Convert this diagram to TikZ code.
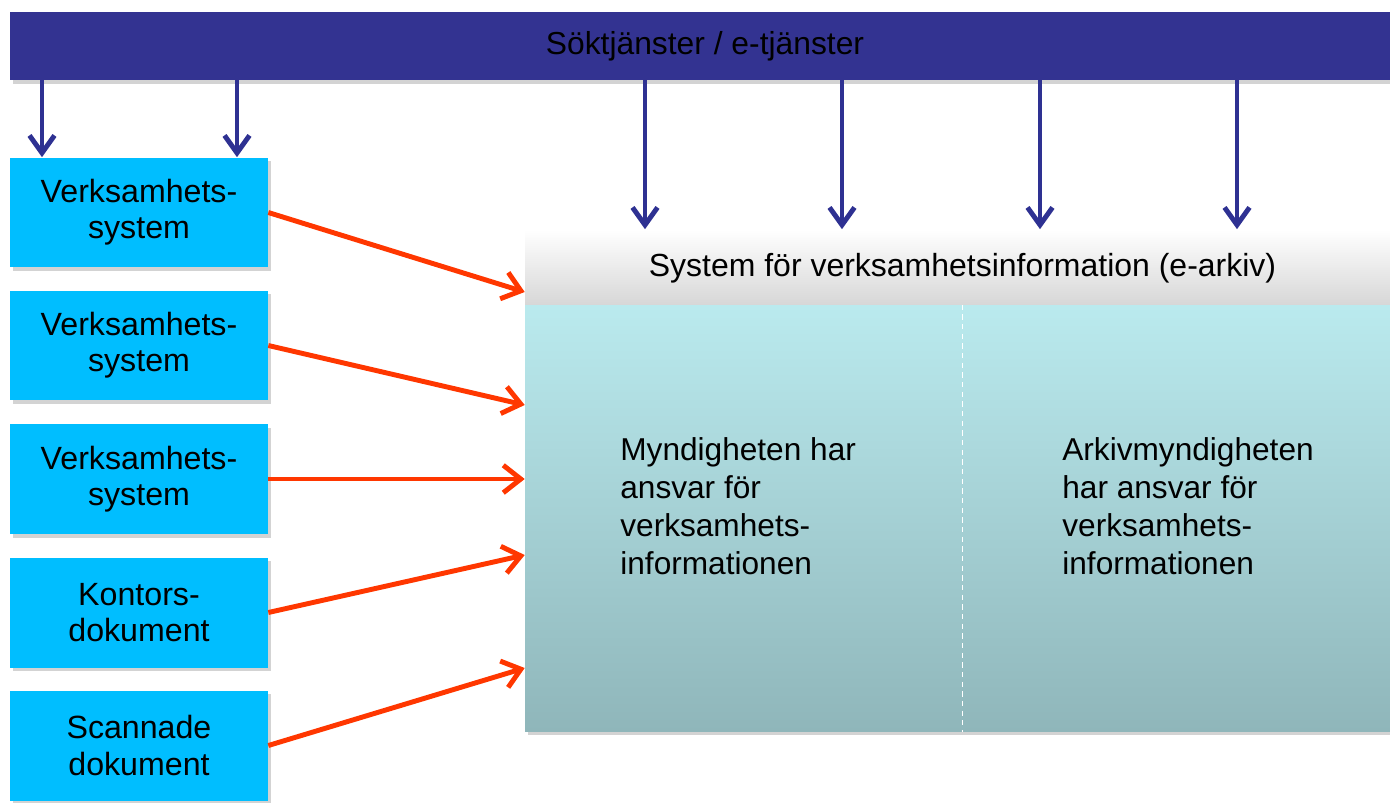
\documentclass[tikz,border=0pt]{standalone}
\usepackage{fontspec}
\setmainfont{Liberation Sans}
\usetikzlibrary{arrows.meta,shadows}

\definecolor{barblue}{RGB}{51,51,145}
\definecolor{arrowblue}{RGB}{46,49,146}
\definecolor{srcblue}{RGB}{0,190,255}
\definecolor{arrowred}{RGB}{255,55,0}
\definecolor{headgrey}{RGB}{214,214,214}
\definecolor{bodytop}{RGB}{186,234,238}
\definecolor{bodybottom}{RGB}{143,182,186}

\tikzset{
    boxshadow/.style = {drop shadow = {shadow xshift = 1.5pt, shadow yshift = -2pt, opacity = 0.35}},
    srcbox/.style = {fill = srcblue, boxshadow, minimum width = 5.16cm, minimum height = 2.2cm, inner sep = 0pt, align = center, font = \fontsize{18.3}{20.5}\selectfont},
    down arrow/.style = {arrowblue, line width = 2.8pt, -{Straight Barb[length = 0.35cm, width = 0.5cm]}},
    in arrow/.style = {arrowred, line width = 2.8pt, -{Straight Barb[length = 0.35cm, width = 0.55cm]}},
    infotext/.style = {anchor = north west, align = left, inner sep = 0pt, font = \fontsize{18}{21.6}\selectfont}
}

\begin{document}
\begin{tikzpicture}[x = 0.02cm, y = -0.02cm]
    \useasboundingbox (0,0) rectangle (1390,802);

    \node[fill = barblue, boxshadow, minimum width = 27.8cm, minimum height = 1.36cm, inner sep = 0pt, font = \fontsize{18.1}{20}\selectfont] (bar) at (705,46) {Söktjänster / e-tjänster};

    \node[srcbox] (sys1) at (139,212.5) {Verksamhets-\\system};
    \node[srcbox] (sys2) at (139,345.5) {Verksamhets-\\system};
    \node[srcbox] (sys3) at (139,479) {Verksamhets-\\system};
    \node[srcbox] (doc) at (139,612.5) {Kontors-\\dokument};
    \node[srcbox] (scan) at (139,745.5) {Scannade\\dokument};

    \node[top color = white, bottom color = headgrey, boxshadow, minimum width = 17.5cm, minimum height = 1.54cm, inner sep = 0pt, font = \fontsize{18.2}{20}\selectfont] (head) at (962.5,268) {System för verksamhetsinformation (e-arkiv)};
    \node[top color = bodytop, bottom color = bodybottom, boxshadow, minimum width = 17.5cm, minimum height = 8.54cm, inner sep = 0pt] (body) at (962.5,518.5) {};
    \draw[white, line width = 0.8pt, dash pattern = on 3pt off 2.5pt] (body.north) -- (body.south);

    \node[infotext] (own) at (620,437) {Myndigheten har\\ansvar för\\verksamhets-\\informationen};
    \node[infotext] (arch) at (1062,437) {Arkivmyndigheten\\har ansvar för\\verksamhets-\\informationen};

    \foreach \x in {42,237}
        \draw[down arrow] (bar.south -| \x,0) -- (sys1.north -| \x,0);
    \foreach \x in {645,842,1040,1237}
        \draw[down arrow] (bar.south -| \x,0) -- (head.north -| \x,0);

    \foreach \src/\y in {sys1/292,sys2/405,sys3/479,doc/555,scan/668}
        \draw[in arrow] (\src.east) -- (body.west |- 0,\y);
\end{tikzpicture}
\end{document}
